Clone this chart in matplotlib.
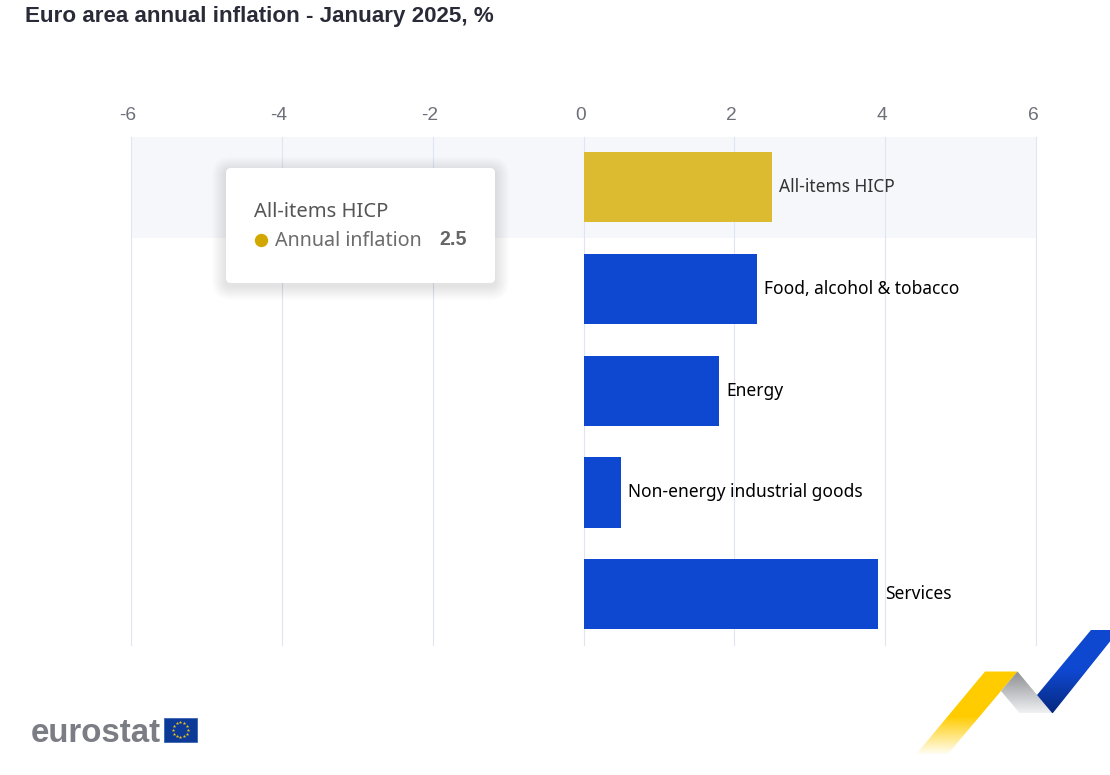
import numpy as np
import matplotlib
matplotlib.use("Agg")
import matplotlib.pyplot as plt
from matplotlib.patches import FancyBboxPatch, Polygon, Rectangle
from matplotlib.colors import LinearSegmentedColormap

categories = ["All-items HICP", "Food, alcohol & tobacco", "Energy",
              "Non-energy industrial goods", "Services"]
values = [2.5, 2.3, 1.8, 0.5, 3.9]
bar_colors = ["#dcbb30", "#0f48d0", "#0f48d0", "#0f48d0", "#0f48d0"]
label_colors = ["#333333", "#000000", "#000000", "#000000", "#000000"]
x_ticks = [-6, -4, -2, 0, 2, 4, 6]
title = "Euro area annual inflation - January 2025, %"
tooltip_name = "Annual inflation"

W, H = 1110, 775
TEXT = ["Noto Sans", "DejaVu Sans"]
fig = plt.figure(figsize=(W / 100, H / 100), dpi=100, facecolor="white")

# page-pixel overlay for title, tooltip and logos
page = fig.add_axes([0, 0, 1, 1], zorder=3)
page.set_xlim(0, W)
page.set_ylim(H, 0)
page.axis("off")
page.patch.set_alpha(0)

# chart axes
L, R, T, B = 131, 1036, 136.6, 645
ax = fig.add_axes([L / W, 1 - B / H, (R - L) / W, (B - T) / H], zorder=1)
y = np.arange(len(categories))
ax.set_xlim(-6, 6)
ax.set_ylim(len(categories) - 0.5, -0.5)
ax.axhspan(-0.5, 0.5, color="#f5f7fb", lw=0, zorder=0)
ax.set_xticks(x_ticks)
ax.set_yticks([])
ax.grid(axis="x", color="#e0e6f1", lw=0.8, zorder=1, clip_on=False)
ax.set_axisbelow(True)
for s in ax.spines.values():
    s.set_visible(False)
ax.tick_params(axis="x", length=0, labelbottom=False)
ax.barh(y, values, height=70 / 101.6, color=bar_colors, zorder=2)
for yi, v, c, col in zip(y, values, categories, label_colors):
    ax.annotate(c, (v, yi), xytext=(5.1, 0), textcoords="offset points", va="center",
                ha="left", fontsize=12.5, color=col, family=TEXT)

# tick labels at the top, placed from the axis scale
for t in x_ticks:
    px = ax.transData.transform((t, 0))[0] - 3
    page.text(px, 116, str(t), ha="center", va="center", fontsize=13.8,
              color="#6e7079", family="Liberation Sans")

page.text(25, 16.5, title, ha="left", va="center", fontsize=16.15, fontweight="bold",
          color="#2a2b38", family="Liberation Sans")

# tooltip with soft shadow
x0, y0, x1, y1 = 226, 168, 495, 283
for g in range(14, 0, -1):
    page.add_patch(FancyBboxPatch((x0 - g, y0 + 3 - g), x1 - x0 + 2 * g, y1 - y0 + 2 * g,
                                  boxstyle=f"round,pad=0,rounding_size={5 + g}",
                                  fc="black", ec="none", alpha=0.0075))
page.add_patch(FancyBboxPatch((x0, y0), x1 - x0, y1 - y0,
                              boxstyle="round,pad=0,rounding_size=5", fc="white", ec="none"))
page.text(254, 212, categories[0], ha="left", va="center", fontsize=14.5, color="#555555", family=TEXT)
page.plot([261], [240], "o", ms=9.6, color="#d2a800", mew=0)
page.text(275, 241, tooltip_name, ha="left", va="center", fontsize=14.2, color="#6c6c6c", family=TEXT)
page.text(466.5, 239.5, f"{values[0]}", ha="right", va="center", fontsize=14.2, fontweight="bold",
          color="#666666", family="Liberation Sans")


def gradient(poly, stops, box):
    """Fill a polygon with a vertical gradient clipped to its outline."""
    cmap = LinearSegmentedColormap.from_list("g", stops)
    im = page.imshow(np.linspace(0, 1, 128)[:, None], extent=(box[0], box[1], box[3], box[2]),
                     cmap=cmap, aspect="auto", zorder=2, interpolation="bilinear")
    p = Polygon(poly, closed=True, fc="none", ec="none", transform=page.transData)
    page.add_patch(p)
    im.set_clip_path(p)


# Eurostat ribbon
gradient([(985, 671.5), (1017.5, 671.5), (947.5, 754.5), (916, 754.5)],
         [(0, "#ffcc00"), (0.55, "#ffcc00"), (1, "#fffdf2")], (916, 1018, 671.5, 754.5))
gradient([(1017.5, 671.5), (1052.5, 713.5), (1020, 713.5), (1001, 691)],
         ["#8c8d92", "#f0f1f3"], (1000, 1053, 671.5, 713.5))
gradient([(1091, 630), (1110, 630), (1110, 641.5), (1052.5, 713.5), (1037, 695)],
         [(0, "#0f48d0"), (0.5, "#0f48d0"), (1, "#06287f")], (1037, 1110, 630, 713.5))

# Eurostat wordmark and flag
page.text(30.5, 733, "eurostat", ha="left", va="center", fontsize=23.8, fontweight="bold",
          color="#7b7d85", family="Liberation Sans")
page.add_patch(Rectangle((163.5, 718), 33.5, 23.5, fc="#0c3a96", ec="#3a64b4", lw=0.6))
ang = np.deg2rad(np.arange(0, 360, 30))
page.plot(180.3 + 7.6 * np.cos(ang), 729.7 + 7.6 * np.sin(ang), ls="none", marker="*", ms=2.6,
          color="#f2c41a", mew=0)

page.set_xlim(0, W)
page.set_ylim(H, 0)
fig.savefig("out.png", dpi=100)
